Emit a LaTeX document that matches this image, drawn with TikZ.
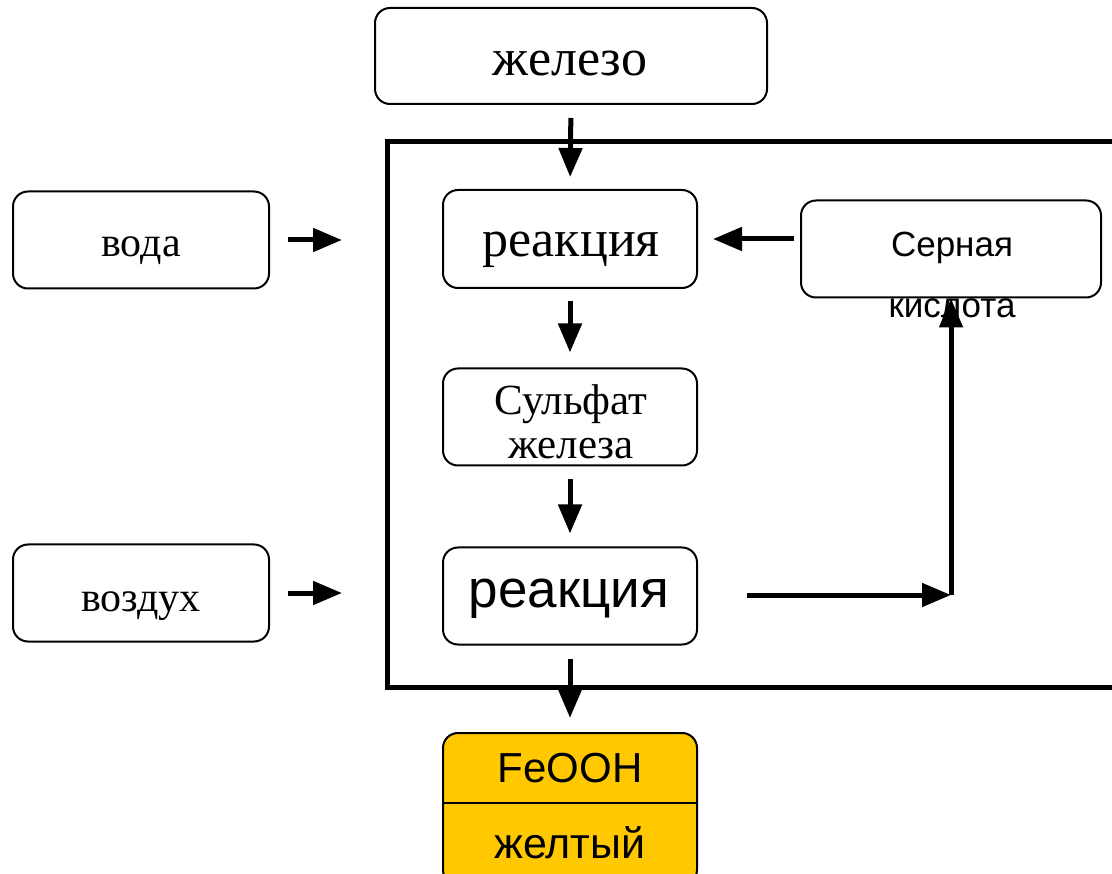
\documentclass[tikz,border=0pt]{standalone}
\usepackage{fontspec}
\setmainfont{Liberation Serif}
\setsansfont{Liberation Sans}
\usetikzlibrary{arrows.meta,calc}
\definecolor{gold}{HTML}{FFC800}
\tikzset{
  box/.style={draw=black, line width=2pt, rounded corners=15pt, inner sep=0pt},
  txt/.style={inner sep=0pt, anchor=base, align=center},
  arr/.style={line width=5pt, -{Triangle[length=29pt,width=23pt]}},
  frm/.style={draw=black, line width=5pt, inner sep=0pt}
}
\newcommand{\fs}[2]{\fontsize{#1}{#2}\selectfont}
\begin{document}
\begin{tikzpicture}[x=1pt,y=-1pt]
\useasboundingbox (0,0) rectangle (1112,874);
\clip (0,0) rectangle (1112,874);
% frame
\node[frm, minimum width=815pt, minimum height=546pt, anchor=north west] (frame) at (385,139) {};
% boxes
\node[box, minimum width=392pt, minimum height=96pt] (iron) at (571,56) {};
\node[box, minimum width=256pt, minimum height=97pt] (water) at (141,240) {};
\node[box, minimum width=256pt, minimum height=97pt] (air) at (141,593) {};
\node[box, minimum width=254pt, minimum height=98pt] (r1) at (570,239) {};
\node[box, minimum width=254pt, minimum height=97pt] (sulf) at (570,417) {};
\node[box, minimum width=254pt, minimum height=97pt] (r2) at (570,596) {};
\node[box, minimum width=300pt, minimum height=97pt] (acid) at (951,249) {};
\node[box, fill=gold, minimum width=254pt, minimum height=152pt, anchor=north] (fe) at (570,732) {};
\draw[line width=2pt] (fe.west |- 0,803) coordinate (dl) -- (fe.east |- 0,803) coordinate (dr);
% texts
\node[txt, font=\fs{52}{60}] (irontxt) at (570,76) {железо};
\node[txt, font=\fs{42}{50}] (watertxt) at (141,257) {вода};
\node[txt, font=\fs{42}{50}] (airtxt) at (141,612) {воздух};
\node[txt, font=\fs{52}{60}] (r1txt) at (571,257) {реакция};
\node[txt, font=\fs{43}{44}] (sulftxt) at (571,459) {Сульфат\\железа};
\node[txt, font=\sffamily\fs{53}{60}] (r2txt) at (569,607) {реакция};
\node[txt, font=\sffamily\fs{35}{61}] (acidtxt) at (952,318) {Серная\\кислота};
\node[txt, font=\sffamily\fs{42}{50}] (feooh) at (570,782) {FeOOH};
\node[txt, font=\sffamily\fs{43}{50}] (yel) at (570,858) {желтый};
% arrows
\draw[arr, shorten <=13pt, shorten >=12pt] (iron.south) -- (r1.north);
\draw[arr, shorten <=12pt, shorten >=15pt] (r1.south) -- (sulf.north);
\draw[arr, shorten <=13pt, shorten >=13pt] (sulf.south) -- (r2.north);
\draw[arr, shorten <=13pt, shorten >=14pt] (r2.south) -- (fe.north);
\draw[arr, shorten <=18pt] (water.east) -- ($(water.east -| frame.west)+(-43,0)$) coordinate (wend);
\draw[arr, shorten <=18pt] (air.east) -- ($(air.east -| frame.west)+(-43,0)$) coordinate (aend);
\draw[arr, shorten <=6pt, shorten >=15pt] (acid.west |- r1.east) -- (r1.east);
\coordinate (corner) at (951,595);
\draw[arr, shorten <=49pt] (r2.east |- corner) -- (corner);
\draw[arr] (corner) -- (acid.south);
\end{tikzpicture}
\end{document}
